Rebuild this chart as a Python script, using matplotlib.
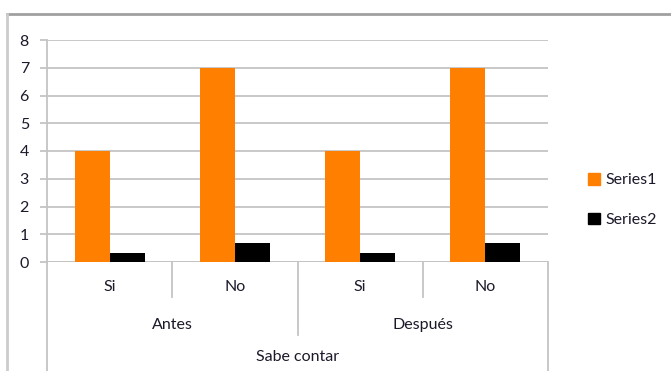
import matplotlib
matplotlib.use("Agg")
import matplotlib.pyplot as plt
import matplotlib.patches as mpatches
from matplotlib.lines import Line2D
import numpy as np

# Data
level1 = ["Si", "No", "Si", "No"]
level2 = ["Antes", "Después"]
level3 = "Sabe contar"
series1 = [4, 7, 4, 7]
series2 = [0.33, 0.67, 0.33, 0.67]
series_names = ["Series1", "Series2"]
yticks = [0, 1, 2, 3, 4, 5, 6, 7, 8]

plt.rcParams["font.family"] = ["Lato", "DejaVu Sans"]
text_color = "#1a1a2a"
grid_color = "#c4c4c4"
orange = "#ff7f00"
fs = 11.5

fig = plt.figure(figsize=(6.71, 3.71), dpi=100)
W, H = 671, 371
ax = fig.add_axes([47 / W, 1 - 262 / H, (548 - 47) / W, (262 - 40) / H])

x = np.arange(len(level1))
bw = 0.28
ax.bar(x - bw / 2, series1, width=bw, color=orange, zorder=3, label=series_names[0])
ax.bar(x + bw / 2, series2, width=bw, color="black", zorder=3, label=series_names[1])

ax.set_xlim(-0.5, len(level1) - 0.5)
ax.set_ylim(0, 8)
ax.set_yticks(yticks)
ax.set_yticklabels([str(v) for v in yticks], fontsize=fs, color=text_color)
ax.tick_params(axis="y", length=5, width=1.3, color=grid_color, pad=8)
ax.set_xticks([])
ax.yaxis.grid(True, color=grid_color, linewidth=1.3, zorder=0)
ax.set_axisbelow(True)
for side in ["top", "right", "bottom"]:
    ax.spines[side].set_visible(False)
ax.spines["left"].set_color(grid_color)
ax.spines["left"].set_linewidth(1.3)

# Multi-level category axis
trans = ax.get_xaxis_transform()
def vline(xd, y0, y1):
    ax.add_line(Line2D([xd, xd], [y0, y1], transform=trans, color=grid_color,
                       linewidth=1.3, clip_on=False))

ax.axhline(0, color=grid_color, linewidth=1.3, zorder=1)
for b in [0.5, 2.5]:
    vline(b, 0, -0.158)
vline(1.5, 0, -0.329)
for b in [-0.5, 3.5]:
    vline(b, 0, -0.5)

for xi, lab in zip(x, level1):
    ax.text(xi, -0.113, lab, transform=trans, ha="center", va="center",
            fontsize=fs, color=text_color)
for i, lab in enumerate(level2):
    ax.text(0.5 + 2 * i, -0.284, lab, transform=trans, ha="center", va="center",
            fontsize=fs, color=text_color)
ax.text(1.5, -0.428, level3, transform=trans, ha="center", va="center",
        fontsize=fs, color=text_color)

# Legend
handles = [mpatches.Patch(color=orange), mpatches.Patch(color="black")]
fig.legend(handles, series_names, loc="center left",
           bbox_to_anchor=(574 / W, 1 - 200 / H), frameon=False,
           fontsize=fs, handlelength=0.75, handleheight=0.75,
           handletextpad=0.3, labelspacing=1.6, labelcolor=text_color)

# Outer chart frame
fig.add_artist(Line2D([7 / W, 1], [1 - 14 / H, 1 - 14 / H], transform=fig.transFigure,
                      color="#a0a0a0", linewidth=2))
fig.add_artist(Line2D([7 / W, 7 / W], [0, 1 - 14 / H], transform=fig.transFigure,
                      color="#cccccc", linewidth=2))

fig.savefig("out.png", dpi=100)
